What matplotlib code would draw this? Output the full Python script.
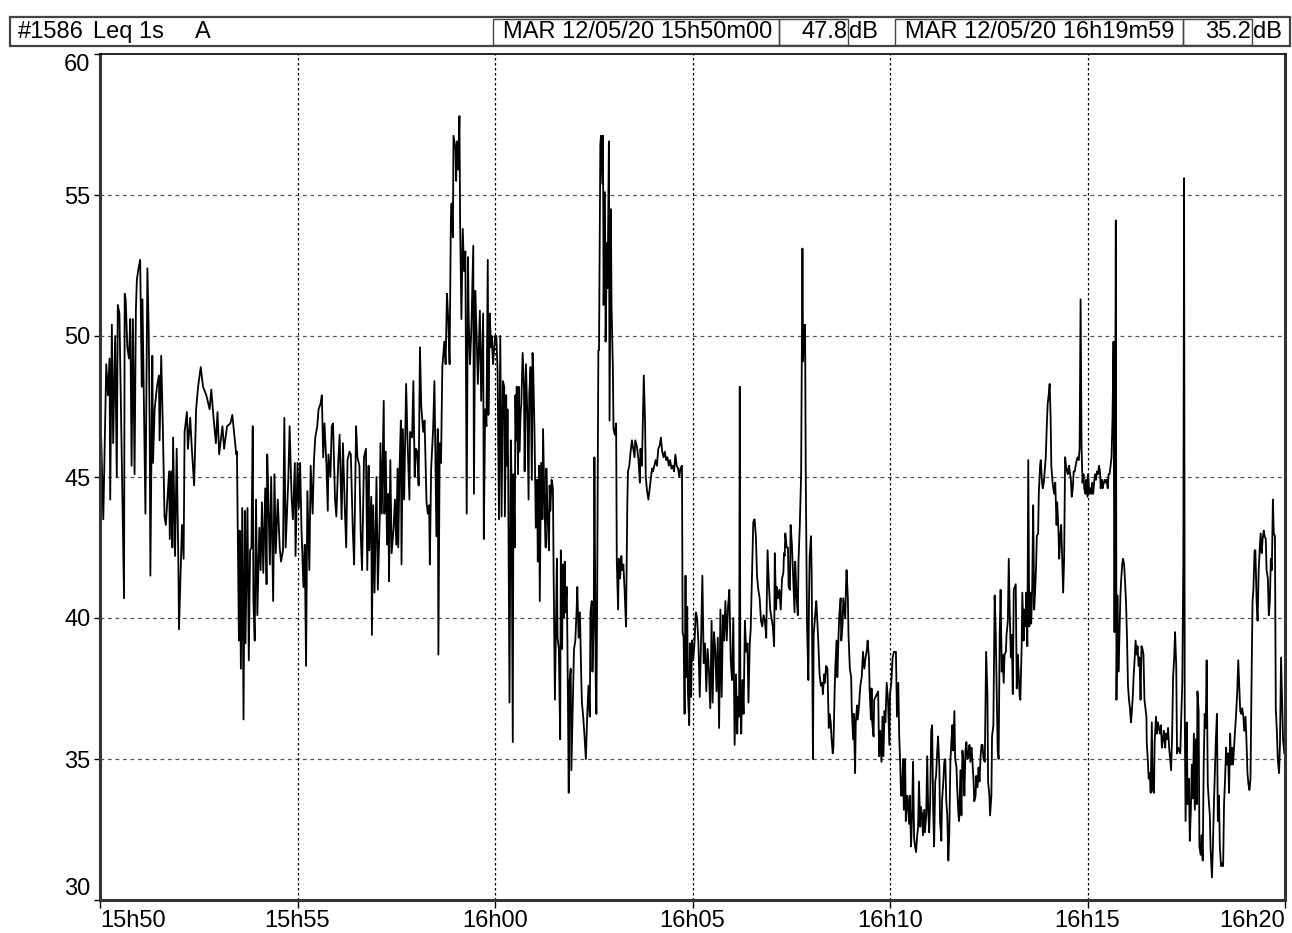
import matplotlib
matplotlib.use("Agg")
import matplotlib.pyplot as plt
from matplotlib.patches import Rectangle

plt.rcParams['font.family'] = ['Liberation Sans', 'DejaVu Sans']
FS = 17

# Leq 1s A, seconds after 15h50m00 -> level in dB
trace_1550 = [(0, 47.8), (2, 46.2), (5, 43.5), (9.5, 49.0), (12, 47.9), (14.5, 49.2), (15.5, 44.2), (18, 50.4),
              (20, 46.2), (23, 50.0), (25.5, 45.0), (27, 51.1), (29.5, 50.8), (34, 44.4), (36.5, 40.7), (37.5, 51.5),
              (39, 51.3), (41.5, 49.6), (44, 49.2), (46, 50.6), (48, 45.4), (50, 50.6), (52.5, 45.1), (54.5, 50.9),
              (56, 52.0), (58.5, 52.4), (61, 52.7), (63.5, 48.2), (64.5, 51.3), (66, 48.8), (69, 43.7), (72, 52.4),
              (74, 50.2), (75.5, 46.6), (76.5, 41.5), (79.5, 49.3), (80.5, 45.5), (83, 47.4), (86.5, 48.2), (89.5, 48.6),
              (90.5, 46.3), (93, 49.3), (95.5, 46.7), (98, 43.6), (100, 43.3), (105, 45.2), (106, 42.8), (108, 45.2),
              (110, 42.5), (111, 46.4), (114, 42.2), (116.5, 46.0), (119, 42.0), (120, 39.6), (122, 41.3), (124.5, 43.3),
              (127, 42.1), (128.5, 46.6), (132, 47.3), (133.5, 46.0), (137, 47.1), (139.5, 46.0), (143, 44.7), (146, 47.4),
              (149, 48.2), (153, 48.9), (156.5, 48.2), (161.5, 47.9), (166.5, 47.4), (169, 48.1), (172.5, 47.1), (176, 46.2),
              (178.5, 47.3), (181, 45.8), (186, 46.8), (188.5, 46.0), (193, 46.8)]

trace_1553 = [(198, 46.9), (201, 47.2), (204, 46.5), (207, 45.8), (208, 45.9), (211, 39.2), (212, 43.1), (214, 38.2),
              (216, 43.9), (218, 36.4), (220, 43.8), (221, 39.1), (224, 43.9), (226, 38.5), (228, 42.4), (230, 42.5),
              (232, 46.8), (233, 40.6), (235, 39.2), (237, 44.2), (239, 40.1), (242, 43.2), (244, 41.7), (246, 44.1),
              (248, 41.6), (251, 44.6), (253, 41.2), (254, 45.8), (255, 45.0), (258, 41.9), (260, 45.0), (263, 40.6),
              (265, 45.1), (267, 42.3), (270, 44.2), (273, 42.5), (275, 42.0), (278, 42.4), (280, 47.1), (282, 42.5),
              (286, 44.9), (288, 46.8), (291, 44.3), (293, 43.5), (296, 45.5), (297, 42.2), (300, 45.5), (302, 43.9),
              (304, 45.5), (306, 43.2), (309, 41.1), (311, 42.6), (313, 38.3), (315, 44.5), (318, 41.7), (320, 45.4),
              (323, 43.7), (325, 45.6), (327, 46.4), (330, 46.8), (332, 47.4), (335, 47.6), (337, 47.9), (339, 45.7),
              (341, 46.9), (344, 45.4), (346, 43.8), (347, 45.8), (350, 45.0), (352, 46.8), (354, 46.9), (357, 44.2),
              (359, 43.6), (362, 45.6), (364, 46.5), (367, 43.5), (369, 46.2), (372, 43.8), (374, 42.5), (376, 45.6),
              (379, 45.9), (381, 45.8), (384, 43.1), (386, 41.9), (389, 46.8), (391, 45.7), (394, 45.4), (396, 43.0),
              (398, 41.7), (401, 45.7)]

trace_1556 = [(404, 46.0), (406, 41.7), (408, 45.4), (409, 42.4), (412, 44.3), (413, 39.4), (415, 44.0), (417, 40.9),
              (420, 45.0), (422, 41.0), (425, 43.6), (426, 46.2), (428, 43.7), (431, 47.7), (432, 43.7), (434, 45.9),
              (436, 42.6), (438, 44.4), (439, 41.3), (441, 45.6), (443, 42.3), (446, 43.2), (448, 44.2), (450, 42.6),
              (452, 45.3), (453, 42.5), (455, 45.3), (457, 47.0), (458, 41.9), (460, 46.7), (462, 44.2), (464, 46.8),
              (465, 48.3), (467, 46.4), (470, 44.2), (471, 46.6), (474, 46.4), (476, 48.4), (478, 45.0), (480, 46.0),
              (482, 45.9), (484, 44.7), (486, 49.6), (488, 47.5), (491, 46.6), (493, 47.0), (496, 44.1), (498, 43.7),
              (500, 44.0), (501, 41.9), (503, 45.3), (506, 46.7), (508, 48.4), (511, 42.9), (513, 46.7), (514, 38.7),
              (516, 46.2), (518, 45.5), (520, 48.9), (523, 49.8), (525, 49.0), (527, 51.5), (529, 50.6), (531, 49.0),
              (533, 54.2), (534, 54.7), (536, 53.5), (537, 57.1), (540, 56.6), (541, 55.5), (542, 56.9), (544, 55.9),
              (546, 57.8), (547, 54.0), (549, 50.6), (551, 53.8), (553, 52.3), (555, 53.0), (557, 43.7), (559, 52.8),
              (560, 50.6), (562, 49.0), (564, 50.2), (567, 53.2), (568, 44.4), (570, 51.6), (572, 50.1), (574, 48.3),
              (577, 50.9), (579, 47.7), (582, 50.8), (583, 42.8), (585, 47.4), (587, 46.8), (589, 52.7), (590, 47.2),
              (592, 50.8), (594, 49.6), (595, 50.0), (597, 49.0), (600, 50.0), (602, 50.0), (604, 48.7), (606, 43.5)]

trace_1600 = [(608, 50.0), (610, 43.6), (612, 48.4), (614, 48.2), (615, 43.6), (617, 47.9), (618, 45.4), (619, 47.4),
              (620, 45.2), (622, 37.0), (624, 46.3), (625, 45.1), (627, 35.6), (628, 45.1), (630, 42.5), (631, 47.9),
              (632, 46.3), (633, 48.2), (635, 45.1), (636, 48.2), (637, 45.9), (639, 47.3), (640, 47.6), (642, 49.4),
              (644, 48.2), (645, 45.2), (647, 49.0), (649, 47.3), (651, 44.2), (652, 47.9), (654, 48.9), (656, 44.9),
              (657, 49.4), (658, 48.9), (660, 46.6), (662, 43.2), (664, 44.9), (665, 42.0), (667, 45.4), (668, 40.6),
              (670, 45.5), (672, 43.5), (673, 46.7), (675, 44.1), (677, 42.5), (678, 45.3), (680, 43.5), (682, 42.4),
              (683, 44.7), (684, 43.8), (686, 44.9), (688, 44.6), (689, 41.7), (691, 37.1), (694, 42.1), (695, 39.3),
              (697, 38.9), (699, 35.7), (700, 42.4), (702, 38.9), (703, 41.9), (705, 40.0), (706, 42.0), (707, 40.2),
              (709, 41.1), (710, 39.1), (712, 33.8), (713, 37.7), (715, 38.2), (716, 34.6), (718, 36.8), (720, 38.9),
              (722, 39.2), (724, 40.3), (725, 41.1), (727, 39.3), (729, 40.2), (731, 37.9), (732, 37.0), (734, 36.5),
              (736, 35.8), (738, 35.0), (740, 36.5), (742, 37.6), (744, 36.5), (745, 40.2), (747, 40.6), (748, 38.1),
              (750, 39.9), (751, 45.7), (753, 37.7), (754, 36.6), (755, 40.0), (757, 49.5), (758, 49.5), (760, 56.8),
              (761, 57.1), (763, 55.4), (764, 57.1), (765, 51.1), (767, 55.1), (768, 49.8), (770, 53.3), (771, 51.7),
              (773, 56.9), (774, 47.0), (776, 54.5), (777, 51.1), (779, 48.9), (780, 46.7), (782, 46.5), (784, 46.9),
              (785, 42.0), (787, 40.3), (788, 42.1), (790, 41.4), (792, 42.2), (793, 41.7), (795, 41.9), (797, 40.9),
              (799, 39.7), (801, 44.1), (802, 45.2), (804, 45.4), (806, 45.9), (808, 46.3), (810, 46.0), (812, 45.7)]

trace_1603 = [(813, 46.3), (815.5, 46.1), (818, 45.6), (820, 44.8), (821, 46.0), (823, 45.4), (824, 46.3), (826, 48.6),
              (828, 46.9), (829, 45.0), (831, 44.5), (833, 44.2), (835, 44.6), (837, 45.0), (838.5, 45.3), (840, 45.2),
              (842, 45.4), (844, 45.6), (846, 45.4), (848, 46.0), (850, 46.1), (852, 46.4), (854, 45.9), (856, 45.7),
              (858, 45.9), (860, 45.6), (862, 45.7), (864, 45.4), (866, 45.6), (868, 45.3), (870, 45.4), (872, 45.2),
              (874, 45.8), (876, 45.4), (878, 45.3), (880, 45.0), (881.6, 45.3), (884, 45.4), (885, 39.5), (886.5, 39.3),
              (888, 36.6), (889.4, 41.5), (890.4, 37.9), (892, 40.4), (893, 37.4), (895, 36.2), (896, 39.1), (898, 37.2),
              (899, 39.2), (901, 38.5), (903, 39.1), (905, 40.2), (907, 40.0), (909, 39.1), (911, 37.2), (913, 39.2),
              (915, 41.5), (917, 38.4), (919, 39.1), (921, 37.4), (923, 38.9), (925, 38.1), (927, 36.8), (929, 39.9),
              (930.6, 37.0), (932.6, 39.5), (934.5, 38.9), (936.5, 37.4), (938.4, 39.3), (940.4, 36.1), (942.4, 40.3),
              (944.3, 37.2), (946.3, 40.1), (948, 39.2), (950, 40.6), (952, 39.2), (954, 40.4), (956, 41.0), (958, 38.5),
              (960, 37.8), (962, 40.0), (964, 35.5), (966, 38.0), (968, 35.9), (969.3, 37.2), (970.8, 36.5), (971.8, 48.2),
              (972.7, 37.2), (974, 35.9), (975.7, 37.8), (977.6, 36.6), (979.6, 39.9), (981.6, 38.8), (983.5, 39.1),
              (985, 37.0), (987, 39.1), (988.4, 39.6), (990.4, 41.5), (992.3, 43.4), (994.3, 43.5), (996.3, 42.9),
              (998, 41.5), (1000, 41.0), (1002, 40.7), (1004, 39.9), (1006, 39.7), (1008, 40.1), (1010, 39.9),
              (1012, 39.3), (1014, 42.4), (1016, 41.2), (1018, 40.3)]

trace_1607 = [(1022, 39.7), (1024, 39.0), (1025, 42.3), (1027, 40.3), (1028, 41.1), (1030, 40.7), (1032, 41.0),
              (1034, 40.3), (1036, 41.4), (1038, 41.6), (1039, 42.3), (1040, 42.2), (1041, 43.0), (1043, 42.5),
              (1045, 42.5), (1046, 41.1), (1048, 41.0), (1049, 43.3), (1051, 42.6), (1053, 41.4), (1055, 40.2),
              (1056, 42.0), (1058, 40.8), (1060, 40.1), (1061, 42.0), (1063, 43.3), (1065, 45.1), (1066, 48.9),
              (1067, 53.1), (1068, 49.1), (1070, 50.4), (1071, 50.4), (1072, 45.1), (1074, 39.7), (1076, 37.8),
              (1077, 40.7), (1078, 42.2), (1080, 42.9), (1081, 41.6), (1083, 35.0), (1084, 39.4), (1086, 40.0),
              (1088, 40.6), (1089, 40.2), (1091, 39.2), (1093, 38.0), (1095, 37.6), (1097, 37.7), (1098, 37.3),
              (1100, 38.0), (1101, 37.7), (1103, 38.3), (1105, 38.2), (1107, 36.1), (1108, 36.6), (1110, 36.3),
              (1111, 35.8), (1113, 35.2), (1114, 35.4), (1116, 37.5), (1117, 38.3), (1119, 39.2), (1120, 37.9),
              (1122, 39.5), (1123, 40.1), (1125, 40.7), (1126, 39.2), (1128, 39.8), (1129, 40.7), (1132, 40.0),
              (1133, 41.0), (1134, 41.7), (1136, 40.7), (1137, 39.4), (1139, 38.2), (1141, 37.9), (1142, 36.7),
              (1144, 35.7), (1145, 36.6), (1147, 34.5), (1148, 36.3), (1150, 36.9), (1151, 36.4), (1153, 36.9),
              (1154, 37.3), (1155, 37.6), (1157, 37.9), (1159, 38.8), (1161, 38.2), (1163, 38.6), (1165, 38.9),
              (1166, 39.2), (1168, 38.6), (1169, 37.5), (1171, 36.4), (1172, 37.5), (1173, 36.3), (1175, 35.8),
              (1176, 37.1)]

trace_1609 = [(1182, 37.4), (1183.5, 35.1), (1185, 36.0), (1187, 34.9), (1188.6, 36.5), (1190, 35.1), (1191.7, 36.7),
              (1193, 36.3), (1195, 37.7), (1197, 37.1), (1199, 35.5), (1200, 37.3), (1202, 37.7), (1204, 38.6),
              (1206, 38.8), (1207.5, 38.8), (1209, 38.8), (1210.6, 36.5), (1212.6, 37.7), (1214, 35.8), (1215.7, 34.7),
              (1216.7, 33.7), (1218, 33.7), (1220, 35.0), (1221, 33.2), (1223, 35.0), (1224, 32.8), (1226, 33.7),
              (1227, 33.5), (1229, 32.7), (1230, 33.7), (1232, 31.9), (1233.5, 33.0), (1235, 34.9), (1236.6, 32.2),
              (1238, 31.9), (1239.6, 31.7), (1241, 32.2), (1242.7, 32.6), (1244, 34.2), (1246, 32.6), (1247, 33.3),
              (1249, 33.0), (1250, 32.3), (1252, 33.2), (1253, 32.4), (1255, 33.0), (1256.5, 35.1), (1258, 33.2),
              (1259.5, 32.4), (1261, 33.5), (1262.6, 36.0), (1264, 36.2), (1265.6, 33.2), (1267, 31.9), (1268.7, 34.2),
              (1270, 34.4), (1271.8, 35.3), (1273, 35.8), (1275, 34.7), (1276, 32.8), (1278, 32.1), (1279, 33.5),
              (1281, 34.2), (1282.5, 34.9), (1284, 35.0), (1285.5, 33.5), (1287, 33.0), (1288.6, 31.4), (1290, 32.3),
              (1291.7, 34.9), (1293, 35.5), (1294.7, 36.2), (1296, 35.3), (1297.8, 36.7), (1299, 35.0), (1301, 34.7),
              (1302, 34.0), (1304, 33.0), (1305, 32.8), (1307, 34.6), (1308.5, 33.0), (1310, 35.3), (1311.5, 34.9),
              (1313, 33.7), (1314.6, 35.3), (1316, 35.6), (1317.7, 35.0), (1319, 35.1), (1320.7, 35.5), (1322, 34.9),
              (1323.8, 35.4), (1325, 35.0), (1327, 34.2), (1328, 33.5), (1330, 33.7), (1331, 34.4), (1333, 34.0),
              (1334.5, 34.7), (1336, 34.2), (1337.6, 35.1), (1339, 35.5), (1340.6, 35.5), (1342, 35.0), (1344, 34.9),
              (1346, 38.8), (1348, 37.3), (1349, 34.2), (1351, 33.7), (1352, 33.0), (1354, 33.7), (1355, 35.8),
              (1357, 36.2), (1359, 40.8), (1360.5, 39.6), (1362, 37.6), (1363.6, 35.3), (1365, 35.0), (1366.6, 39.4),
              (1368, 41.0), (1369.7, 38.1), (1371, 38.7), (1372.7, 37.7), (1374, 38.7), (1376, 38.8), (1377, 39.4),
              (1379, 39.9), (1380.4, 42.1), (1382, 40.1), (1383.5, 38.6), (1385, 39.4), (1386.5, 37.3), (1388, 41.0)]

trace_1613 = [(1391, 41.2), (1392.5, 37.5), (1394, 38.7), (1395.4, 38.1), (1397, 37.2), (1398, 37.1), (1400, 39.0),
              (1401, 40.9), (1403, 39.2), (1404, 40.3), (1406, 39.7), (1407, 40.9), (1408.6, 39.0), (1410, 45.6),
              (1411.6, 39.7), (1413, 40.9), (1414.5, 39.8), (1416, 41.1), (1417.5, 44.0), (1419, 40.3), (1420.4, 40.9),
              (1422, 41.9), (1423, 42.9), (1425, 43.0), (1426, 44.4), (1428, 45.4), (1429, 45.6), (1431, 44.8),
              (1432, 44.6), (1433.6, 44.8), (1435, 45.2), (1436.6, 45.7), (1438, 46.7), (1439.5, 47.6), (1441, 47.9),
              (1442.5, 48.3), (1444, 47.1), (1445, 45.4), (1447, 44.8), (1448, 44.6), (1450, 44.4), (1451, 44.8),
              (1453, 43.3), (1454, 44.1), (1455.7, 43.2), (1457, 42.1), (1458.6, 42.9), (1460, 43.3), (1461.6, 42.1),
              (1463, 40.9), (1464.5, 42.1), (1466, 45.7), (1467.4, 45.4), (1469, 45.2), (1470, 45.1), (1472, 45.4),
              (1473, 45.2), (1474.8, 44.9), (1476, 44.3), (1477.7, 44.6), (1479, 45.2), (1480.7, 45.2), (1482, 45.4),
              (1483.6, 45.6), (1485, 45.7), (1486.6, 45.6), (1488, 46.0), (1489.5, 51.3), (1491, 46.0), (1492.4, 44.8),
              (1494, 45.1), (1495, 44.6), (1497, 44.4), (1498, 44.9), (1500, 44.3), (1501, 45.1), (1502.7, 44.4),
              (1504, 44.6), (1505.7, 44.4), (1507, 44.8), (1508.6, 44.4), (1510, 44.8), (1511.5, 45.1), (1513, 44.9),
              (1514.5, 45.2), (1516, 45.1), (1517.4, 45.4), (1519, 45.2), (1520, 44.6), (1522, 44.9), (1523, 44.6),
              (1524.8, 44.8), (1526, 44.9), (1527.7, 44.8), (1529, 44.9), (1530.7, 44.6), (1532, 45.1), (1533.6, 45.1),
              (1535, 45.4), (1536.5, 45.7), (1538, 47.1), (1539.5, 49.8), (1541, 39.5), (1542, 45.7), (1543, 54.1),
              (1544, 37.1), (1545.4, 40.8), (1547, 38.1), (1548, 38.9), (1550, 40.8), (1551, 41.3), (1552.7, 41.9),
              (1554, 42.1), (1555.6, 41.9), (1557, 41.3), (1558.6, 40.5), (1560, 39.3), (1561.5, 37.6), (1563, 37.1),
              (1564.5, 36.8), (1566, 36.3), (1567.4, 36.7), (1569, 37.3), (1570, 37.9), (1572, 38.7), (1573, 39.2),
              (1574.8, 38.7), (1576, 39.0), (1577.7, 38.3), (1579, 38.6), (1580.6, 37.1), (1582, 39.0), (1583.6, 38.9),
              (1585, 38.7), (1586.5, 37.1), (1588, 36.8), (1589.5, 36.5)]

trace_1616 = [(1590, 35.6), (1591.5, 35.0), (1593, 34.3), (1594.6, 34.5), (1596, 33.8), (1597.7, 36.3), (1599, 33.9),
              (1601, 33.8), (1602, 35.6), (1604, 36.5), (1605.5, 35.9), (1607, 36.3), (1608.5, 36.1), (1610, 35.9),
              (1611.6, 36.2), (1613, 35.4), (1614.7, 35.7), (1616, 36.0), (1618, 35.4), (1619, 35.9), (1621, 35.7),
              (1622.4, 36.1), (1624, 35.4), (1625.5, 35.0), (1627, 34.6), (1628.6, 35.9), (1630, 37.9), (1631.7, 38.6),
              (1633, 39.5), (1634.8, 38.3), (1636, 35.2), (1638, 35.4), (1639.4, 35.3), (1641, 35.2), (1642.5, 36.6),
              (1644, 37.7), (1645.6, 42.1), (1646.7, 55.6), (1647.7, 36.6), (1649, 32.8), (1650.8, 36.3), (1652, 33.4),
              (1654, 34.3), (1655.4, 32.1), (1657, 33.2), (1658.5, 34.8), (1660, 33.6), (1661.6, 35.9), (1663, 33.2),
              (1664.7, 35.7), (1666, 33.4), (1667, 37.4), (1668.8, 36.7), (1670, 31.9), (1672, 31.6), (1673.4, 32.3),
              (1675, 31.4), (1676.5, 34.8), (1678, 36.6), (1679.6, 36.1), (1681, 38.5), (1682.7, 34.1), (1684, 33.6),
              (1685.8, 33.0), (1687, 31.8), (1689, 30.8), (1690.4, 31.8), (1692, 33.4), (1693.5, 34.6), (1695, 35.7),
              (1696.6, 36.6), (1698, 32.8), (1699.7, 33.7), (1701, 31.9), (1702.8, 31.2), (1704, 31.3), (1706, 31.2),
              (1707.4, 33.4), (1709, 34.3), (1710.5, 35.4), (1712, 34.8), (1713.6, 35.2), (1715, 33.8), (1716.7, 35.9),
              (1718, 34.8), (1719.8, 35.4), (1721, 34.8), (1723, 35.6), (1724.4, 36.1), (1726, 36.7), (1727.5, 37.4),
              (1729, 38.5), (1730.6, 37.5), (1732, 36.7), (1733.7, 36.6), (1735, 36.8), (1736.8, 36.5), (1738, 36.0),
              (1740, 36.5), (1741.4, 35.7), (1743, 34.5), (1744.5, 34.1), (1746, 33.9), (1747.6, 34.3), (1749, 37.4),
              (1750.7, 40.6), (1752, 41.0), (1753.8, 42.4), (1755, 42.4), (1757, 40.5), (1758.4, 39.9), (1760, 41.7),
              (1761.5, 42.4), (1763, 43.0), (1764.6, 42.3), (1766, 42.8), (1767.7, 43.1), (1769, 42.9), (1770.8, 42.8),
              (1772, 41.7), (1774, 41.4), (1775.4, 40.1), (1777, 40.6), (1778.5, 42.1), (1780, 41.7), (1781.6, 44.2),
              (1783, 43.0), (1784.7, 42.9), (1786, 36.8), (1787.8, 35.9), (1789, 35.0), (1791, 34.5), (1792.4, 35.6),
              (1794, 38.6), (1795.5, 37.2), (1797, 35.7), (1799, 35.2)]

tick_secs = [0, 300, 600, 900, 1200, 1500, 1800]
tick_labels = ['15h50', '15h55', '16h00', '16h05', '16h10', '16h15', '16h20']
db_ticks = [30, 35, 40, 45, 50, 55, 60]

header_id = '#1586'
header_kind = 'Leq 1s'
header_weight = 'A'
start_stamp = 'MAR 12/05/20 15h50m00'
start_level = '47.8'
end_stamp = 'MAR 12/05/20 16h19m59'
end_level = '35.2'

trace = trace_1550 + trace_1553 + trace_1556 + trace_1600 + trace_1603 + trace_1607 + trace_1609 + trace_1613 + trace_1616
secs = [p[0] for p in trace]
levels = [p[1] for p in trace]

W, H = 1292, 933
fig = plt.figure(figsize=(W / 100, H / 100), dpi=100)


def fx(px):
    return px / W


def fy(py):
    return 1 - py / H


ax = fig.add_axes([fx(100), fy(900), fx(1285) - fx(100), fy(54) - fy(900)])
ax.plot(secs, levels, color='black', lw=1.3)
ax.set_xlim(0, 1800)
ax.set_ylim(30, 60)

ax.set_xticks(tick_secs)
ax.set_xticklabels(tick_labels, fontsize=FS)
ax.set_yticks(db_ticks)
ax.set_yticklabels([str(v) for v in db_ticks], fontsize=FS)
labs = ax.get_xticklabels()
labs[0].set_ha('left')
labs[-1].set_ha('right')
ylabs = ax.get_yticklabels()
ylabs[0].set_va('bottom')
ylabs[-1].set_va('top')
ax.tick_params(axis='x', direction='out', length=6, width=1, pad=1)
ax.tick_params(axis='y', direction='out', length=4, width=1, pad=3)

# grid: grey dashes across, black fine dots down
for v in db_ticks[1:-1]:
    ax.axhline(v, color='#555555', lw=0.9, ls=(0, (3, 3)), zorder=0)
for s in tick_secs[1:-1]:
    ax.axvline(s, color='black', lw=0.9, ls=(0, (2, 2)), zorder=0)

for side in ['left', 'right', 'bottom']:
    ax.spines[side].set_linewidth(2.2)
    ax.spines[side].set_color('#333333')
ax.spines['top'].set_linewidth(1.2)

# header strip
fig.patches.append(Rectangle((fx(10), fy(46)), fx(1290) - fx(10), fy(17) - fy(46),
                             transform=fig.transFigure, fill=False, ec='#444444', lw=1.6))
for x0, x1 in [(493, 779), (779, 848), (895, 1183), (1183, 1252)]:
    fig.patches.append(Rectangle((fx(x0), fy(45)), fx(x1) - fx(x0), fy(19) - fy(45),
                                 transform=fig.transFigure, fill=False, ec='#444444', lw=1.0))

ty = fy(32)
fig.text(fx(18), ty, header_id, fontsize=FS, va='center')
fig.text(fx(93), ty, header_kind, fontsize=FS, va='center')
fig.text(fx(195), ty, header_weight, fontsize=FS, va='center')
fig.text(fx(503), ty, start_stamp, fontsize=FS, va='center')
fig.text(fx(847), ty, start_level, fontsize=FS, va='center', ha='right')
fig.text(fx(849), ty, 'dB', fontsize=FS, va='center')
fig.text(fx(905), ty, end_stamp, fontsize=FS, va='center')
fig.text(fx(1251), ty, end_level, fontsize=FS, va='center', ha='right')
fig.text(fx(1253), ty, 'dB', fontsize=FS, va='center')

fig.savefig('out.png', dpi=100)
